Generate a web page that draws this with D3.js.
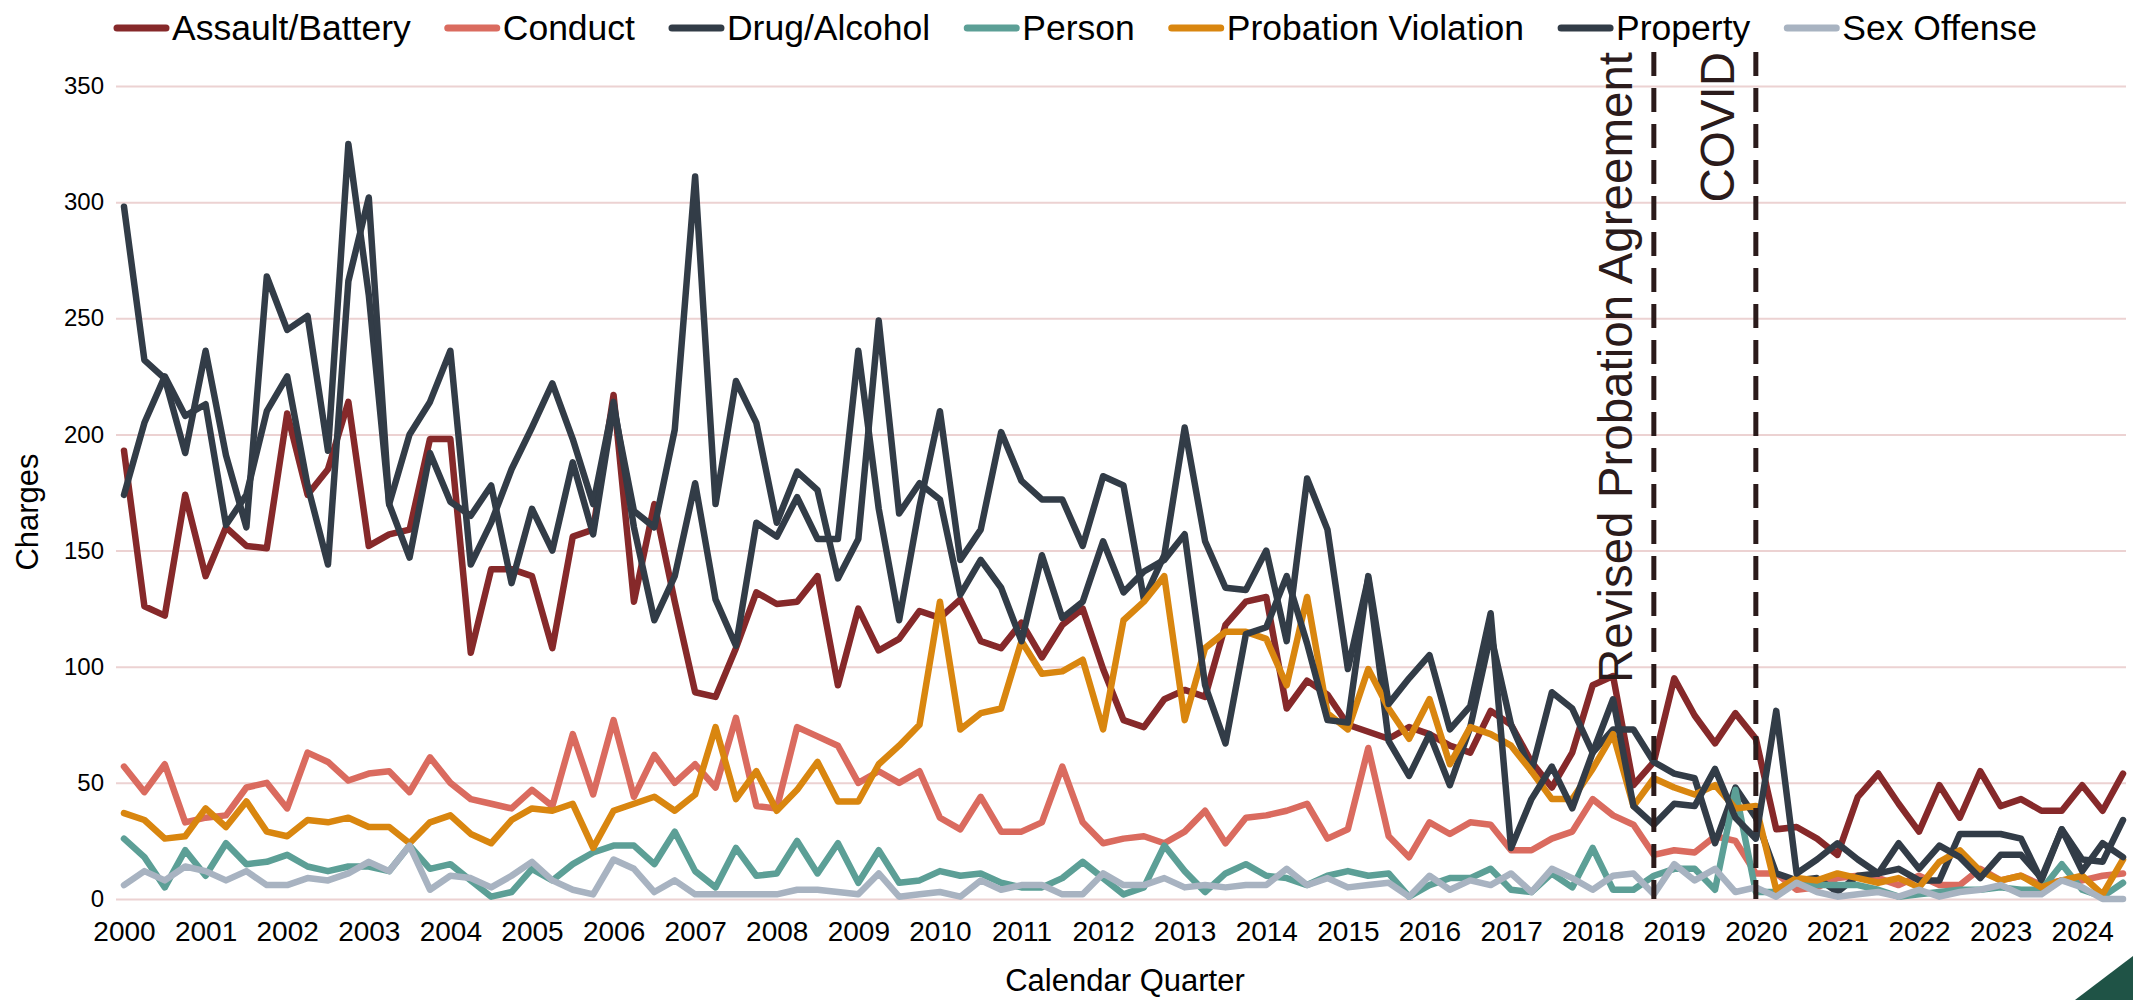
<!DOCTYPE html>
<html>
<head>
<meta charset="utf-8">
<script src="https://cdn.jsdelivr.net/npm/d3@7"></script>
<style>
  body { margin: 0; background: #fff; }
  svg { display: block; font-family: "Liberation Sans", Arial, sans-serif; }
</style>
</head>
<body>
<svg width="2133" height="1000"></svg>
<script>
const svg = d3.select("svg");
const width = +svg.attr("width");
const height = +svg.attr("height");

// tick labels (one per year, first quarter)
const years = ["2000", "2001", "2002", "2003", "2004", "2005", "2006", "2007", "2008", "2009",
    "2010", "2011", "2012", "2013", "2014", "2015", "2016", "2017", "2018", "2019",
    "2020", "2021", "2022", "2023", "2024"];
const yTicks = [0, 50, 100, 150, 200, 250, 300, 350];

// quarterly categories 2000 Q1 .. 2024 Q3
let quarters = [];
years.forEach(y => ["Q1", "Q2", "Q3", "Q4"].forEach(q => quarters.push(y + " " + q)));
quarters = quarters.slice(0, 99);

const seriesNames = ["Assault/Battery", "Conduct", "Drug/Alcohol", "Person", "Probation Violation", "Property", "Sex Offense"];

const assault = [193, 126, 122, 174, 139, 160, 152, 151, 209, 174, 185, 214, 152, 157, 159, 198, 198,
    106, 142, 142, 139, 108, 156, 159, 217, 128, 170, 128, 89, 87, 108, 132, 127,
    128, 139, 92, 125, 107, 112, 124, 121, 129, 111, 108, 119, 104, 118, 125, 99,
    77, 74, 86, 90, 87, 118, 128, 130, 82, 94, 88, 75, 72, 69, 74, 71,
    66, 63, 81, 75, 59, 48, 63, 92, 96, 49, 59, 95, 79, 67, 80, 69,
    30, 31, 26, 19, 44, 54, 41, 29, 49, 35, 55, 40, 43, 38, 38, 49, 38, 54];

const conduct = [57, 46, 58, 33, 35, 36, 48, 50, 39, 63, 59, 51, 54, 55, 46, 61, 50,
    43, 41, 39, 47, 40, 71, 45, 77, 44, 62, 50, 58, 48, 78, 40, 39,
    74, 70, 66, 50, 55, 50, 55, 35, 30, 44, 29, 29, 33, 57, 33, 24,
    26, 27, 24, 29, 38, 24, 35, 36, 38, 41, 26, 30, 65, 27, 18, 33,
    28, 33, 32, 21, 21, 26, 29, 43, 36, 32, 19, 21, 20, 27, 25, 11,
    11, 4, 5, 9, 10, 9, 6, 10, 6, 6, 13, 8, 10, 6, 8, 8, 10, 11];

const drugAlcohol = [298, 232, 224, 192, 236, 191, 160, 268, 245, 251, 193, 325, 260, 170, 200, 214, 236,
    144, 162, 185, 203, 222, 198, 170, 214, 160, 120, 139, 179, 129, 109, 162, 156,
    173, 155, 155, 236, 168, 120, 169, 210, 146, 159, 201, 180, 172, 172, 152, 182,
    178, 129, 148, 203, 154, 134, 133, 150, 111, 181, 159, 99, 138, 68, 53, 71,
    49, 74, 114, 75, 55, 89, 82, 63, 73, 73, 59, 54, 52, 24, 48, 35,
    11, 8, 9, 3, 10, 11, 13, 8, 8, 28, 28, 28, 26, 8, 30, 17, 16, 34];

const person = [26, 18, 5, 21, 10, 24, 15, 16, 19, 14, 12, 14, 14, 12, 23, 13, 15,
    8, 1, 3, 13, 8, 15, 20, 23, 23, 15, 29, 12, 5, 22, 10, 11,
    25, 11, 24, 7, 21, 7, 8, 12, 10, 11, 7, 5, 5, 9, 16, 9,
    2, 5, 23, 12, 3, 11, 15, 10, 9, 6, 10, 12, 10, 11, 1, 6,
    9, 9, 13, 4, 3, 11, 5, 22, 4, 4, 10, 13, 13, 4, 47, 3,
    3, 8, 6, 6, 6, 4, 1, 2, 3, 4, 4, 5, 4, 4, 15, 4, 1, 7];

const probation = [37, 34, 26, 27, 39, 31, 42, 29, 27, 34, 33, 35, 31, 31, 24, 33, 36,
    28, 24, 34, 39, 38, 41, 22, 38, 41, 44, 38, 45, 74, 43, 55, 38,
    47, 59, 42, 42, 58, 66, 75, 128, 73, 80, 82, 111, 97, 98, 103, 73,
    120, 128, 139, 77, 108, 115, 115, 112, 92, 130, 80, 73, 99, 82, 69, 86,
    58, 74, 71, 66, 55, 43, 43, 56, 71, 40, 52, 48, 45, 49, 39, 40,
    4, 9, 8, 11, 9, 7, 9, 5, 16, 21, 12, 8, 10, 5, 8, 10, 2, 17];

const property = [174, 205, 225, 208, 213, 161, 174, 210, 225, 178, 144, 266, 302, 170, 147, 192, 171,
    165, 178, 136, 168, 150, 188, 157, 212, 167, 160, 202, 311, 170, 223, 205, 162,
    184, 176, 138, 155, 249, 166, 179, 172, 131, 146, 134, 111, 148, 121, 128, 154,
    132, 141, 146, 157, 92, 67, 114, 117, 139, 110, 77, 76, 139, 84, 95, 105,
    73, 83, 123, 22, 43, 57, 39, 63, 86, 40, 32, 41, 40, 56, 35, 26,
    81, 11, 17, 24, 17, 11, 24, 13, 23, 18, 9, 19, 19, 9, 30, 12, 24, 18];

const sexOffense = [6, 12, 8, 14, 12, 8, 12, 6, 6, 9, 8, 11, 16, 12, 23, 4, 10,
    9, 5, 10, 16, 8, 4, 2, 17, 13, 3, 8, 2, 2, 2, 2, 2,
    4, 4, 3, 2, 11, 1, 2, 3, 1, 8, 4, 6, 6, 2, 2, 11,
    6, 6, 9, 5, 6, 5, 6, 6, 13, 6, 9, 5, 6, 7, 1, 10,
    4, 8, 6, 11, 3, 13, 9, 4, 10, 11, 2, 15, 8, 13, 3, 5,
    1, 7, 3, 1, 2, 3, 1, 4, 1, 3, 4, 6, 2, 2, 8, 5, 0, 0];

const seriesValues = [assault, conduct, drugAlcohol, person, probation, property, sexOffense];
const colors = ["#86292a", "#da6b5f", "#323c47", "#5c9f96", "#d9860f", "#323c47", "#a8b3c1"];

// events marked with dashed lines
const events = [
    { label: "Revised Probation Agreement", quarter: "2018 Q4" },
    { label: "COVID", quarter: "2020 Q1" }
];

const x = d3.scalePoint()
    .domain(quarters)
    .range([124, 2123]);

const y = d3.scaleLinear()
    .domain([0, 350])
    .range([899, 86]);

// gridlines + y labels
const yAxis = svg.append("g")
    .attr("transform", "translate(116,0)")
    .call(d3.axisLeft(y).tickValues(yTicks).tickSize(-(2126 - 116)).tickPadding(12));
yAxis.select(".domain").remove();
yAxis.selectAll(".tick line")
    .attr("stroke", "#ecd2d2")
    .attr("stroke-width", 2);
yAxis.selectAll(".tick text")
    .attr("font-size", 24)
    .attr("font-family", "Liberation Sans, Arial, sans-serif")
    .attr("fill", "#000");

// x labels, one per year
const xAxis = svg.append("g")
    .attr("transform", "translate(0,899)")
    .call(d3.axisBottom(x)
        .tickValues(quarters.filter(q => q.endsWith("Q1")))
        .tickFormat(q => q.slice(0, 4))
        .tickSize(0)
        .tickPadding(22));
xAxis.select(".domain").remove();
xAxis.selectAll(".tick text")
    .attr("font-size", 28)
    .attr("font-family", "Liberation Sans, Arial, sans-serif")
    .attr("fill", "#000");

// axis titles
svg.append("text")
    .attr("transform", "translate(38,512) rotate(-90)")
    .attr("text-anchor", "middle")
    .attr("font-size", 31)
    .text("Charges");

svg.append("text")
    .attr("x", 1125)
    .attr("y", 991)
    .attr("text-anchor", "middle")
    .attr("font-size", 31)
    .text("Calendar Quarter");

// series lines
const line = d3.line()
    .x((d, i) => x(quarters[i]))
    .y(d => y(d));

seriesValues.forEach((values, k) => {
    svg.append("path")
        .attr("d", line(values))
        .attr("fill", "none")
        .attr("stroke", colors[k])
        .attr("stroke-width", 6.5)
        .attr("stroke-linejoin", "round")
        .attr("stroke-linecap", "round");
});

// event markers
events.forEach(ev => {
    let ex = x(ev.quarter);
    svg.append("line")
        .attr("x1", ex)
        .attr("x2", ex)
        .attr("y1", 52)
        .attr("y2", 899)
        .attr("stroke", "#2b1b1b")
        .attr("stroke-width", 5)
        .attr("stroke-dasharray", "24,12");

    svg.append("text")
        .attr("transform", `translate(${ex - 22},52) rotate(-90)`)
        .attr("text-anchor", "end")
        .attr("font-size", 47.5)
        .attr("fill", "#2b1b1b")
        .text(ev.label);
});

// legend
const legend = svg.append("g").attr("transform", "translate(114,28)");
let lx = 0;
seriesNames.forEach((name, k) => {
    legend.append("line")
        .attr("x1", lx + 3)
        .attr("x2", lx + 52)
        .attr("y1", 0)
        .attr("y2", 0)
        .attr("stroke", colors[k])
        .attr("stroke-width", 7)
        .attr("stroke-linecap", "round");

    let t = legend.append("text")
        .attr("x", lx + 58)
        .attr("y", 0)
        .attr("dy", "0.35em")
        .attr("font-size", 35.5)
        .text(name);

    lx += 58 + t.node().getComputedTextLength() + 34;
});

// corner mark
svg.append("path")
    .attr("d", `M2075,${height}L${width},956L${width},${height}Z`)
    .attr("fill", "#1f5346");
</script>
</body>
</html>
